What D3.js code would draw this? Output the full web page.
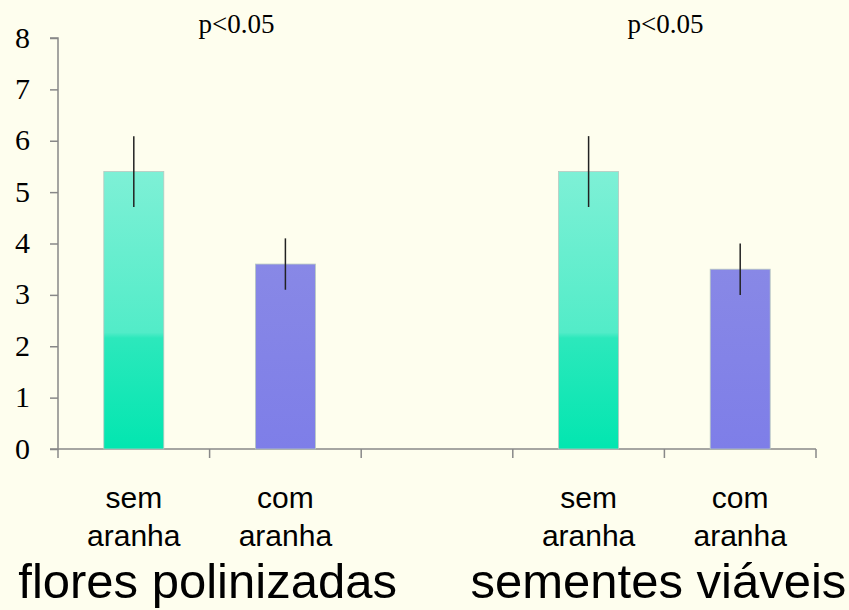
<!DOCTYPE html>
<html><head><meta charset="utf-8">
<script src="https://cdn.jsdelivr.net/npm/d3@7"></script>
<style>body{margin:0;background:#fefeee;}svg{display:block;}</style>
</head><body>
<svg id="c" width="849" height="610"></svg>
<script>
const categories = ["sem|aranha", "com|aranha", "", "sem|aranha", "com|aranha"];
const values = [5.4, 3.6, null, 5.4, 3.5];
const errors = [0.69, 0.5, null, 0.69, 0.5];
const kinds = ["sem", "com", "", "sem", "com"];
const yTicks = [0, 1, 2, 3, 4, 5, 6, 7, 8];
const groupLabels = ["flores polinizadas", "sementes viáveis"];
const pLabels = ["p<0.05", "p<0.05"];

const svg = d3.select("#c");
svg.append("rect").attr("width", 849).attr("height", 610).attr("fill", "#fefeee");
const defs = svg.append("defs");
const g1 = defs.append("linearGradient").attr("id", "gTeal").attr("x1", 0).attr("y1", 0).attr("x2", 0).attr("y2", 1);
g1.append("stop").attr("offset", "0%").attr("stop-color", "#7ef0d6");
g1.append("stop").attr("offset", "58%").attr("stop-color", "#52ecc8");
g1.append("stop").attr("offset", "60%").attr("stop-color", "#2ce8bc");
g1.append("stop").attr("offset", "100%").attr("stop-color", "#02e6b0");
const g2 = defs.append("linearGradient").attr("id", "gPurple").attr("x1", 0).attr("y1", 0).attr("x2", 0).attr("y2", 1);
g2.append("stop").attr("offset", "0%").attr("stop-color", "#8888e6");
g2.append("stop").attr("offset", "100%").attr("stop-color", "#7e7ee8");

const x = d3.scaleBand().domain(d3.range(categories.length)).range([58, 816]).paddingInner(0).paddingOuter(0);
const y = d3.scaleLinear().domain([0, 8]).range([449, 38]);
const barW = 60;

// y axis
const yAxis = d3.axisLeft(y).tickValues(yTicks).tickSize(8).tickFormat(d3.format("d"));
const ya = svg.append("g").attr("transform", "translate(58,0)").call(yAxis);
ya.select(".domain").attr("stroke", "#888").attr("stroke-width", 1.5).attr("d", "M-8,38H0V449H-8");
ya.selectAll(".tick line").attr("stroke", "#888").attr("stroke-width", 1.5);
ya.selectAll(".tick text").attr("font-family", "Liberation Serif, Times New Roman, serif").attr("font-size", 30).attr("fill", "#000").attr("x", -28).attr("dy", "0.3em");

// x axis
const xa = svg.append("g").attr("transform", "translate(0,449)");
xa.append("line").attr("x1", 58).attr("x2", 816).attr("stroke", "#888").attr("stroke-width", 1.5);
const bounds = categories.map((d, i) => x(i)).concat([x(categories.length - 1) + x.bandwidth()]);
xa.selectAll("line.t").data(bounds).join("line").attr("class", "t")
  .attr("x1", d => d).attr("x2", d => d).attr("y1", 0).attr("y2", 9)
  .attr("stroke", "#888").attr("stroke-width", 1.5);

// bars
const data = categories.map((c, i) => ({c, v: values[i], e: errors[i], k: kinds[i], i})).filter(d => d.v != null);
svg.selectAll("rect.bar").data(data).join("rect").attr("class", "bar")
  .attr("x", d => x(d.i) + x.bandwidth() / 2 - barW / 2)
  .attr("y", d => y(d.v)).attr("width", barW).attr("height", d => y(0) - y(d.v))
  .attr("fill", d => d.k === "sem" ? "url(#gTeal)" : "url(#gPurple)")
  .attr("stroke", "#b8c8c0").attr("stroke-width", 0.8);

// error bars
svg.selectAll("line.err").data(data).join("line").attr("class", "err")
  .attr("x1", d => x(d.i) + x.bandwidth() / 2).attr("x2", d => x(d.i) + x.bandwidth() / 2)
  .attr("y1", d => y(d.v + d.e)).attr("y2", d => y(d.v - d.e))
  .attr("stroke", "#222").attr("stroke-width", 1.5);

// category labels
const lab = svg.selectAll("text.cat").data(data).join("text").attr("class", "cat")
  .attr("text-anchor", "middle").attr("font-family", "Liberation Sans, Arial, sans-serif")
  .attr("font-size", 30).attr("fill", "#000");
lab.each(function(d) {
  const parts = d.c.split("|");
  const t = d3.select(this);
  parts.forEach((p, j) => t.append("tspan").attr("x", x(d.i) + x.bandwidth() / 2).attr("y", 508 + j * 38).text(p));
});

// group labels
const gx = [(x(0) + x(1) + x.bandwidth()) / 2 - 2, (x(3) + x(4) + x.bandwidth()) / 2 - 6];
svg.selectAll("text.grp").data(groupLabels).join("text").attr("class", "grp")
  .attr("x", (d, i) => gx[i]).attr("y", 598).attr("text-anchor", "middle")
  .attr("font-family", "Liberation Sans, Arial, sans-serif").attr("font-size", 49).attr("fill", "#000").text(d => d);

// p labels
const px = [x(1) + 27, x(4) + 1];
svg.selectAll("text.p").data(pLabels).join("text").attr("class", "p")
  .attr("x", (d, i) => px[i]).attr("y", 33).attr("text-anchor", "middle")
  .attr("font-family", "Liberation Serif, Times New Roman, serif").attr("font-size", 27).attr("fill", "#000").text(d => d);
</script>
</body></html>
